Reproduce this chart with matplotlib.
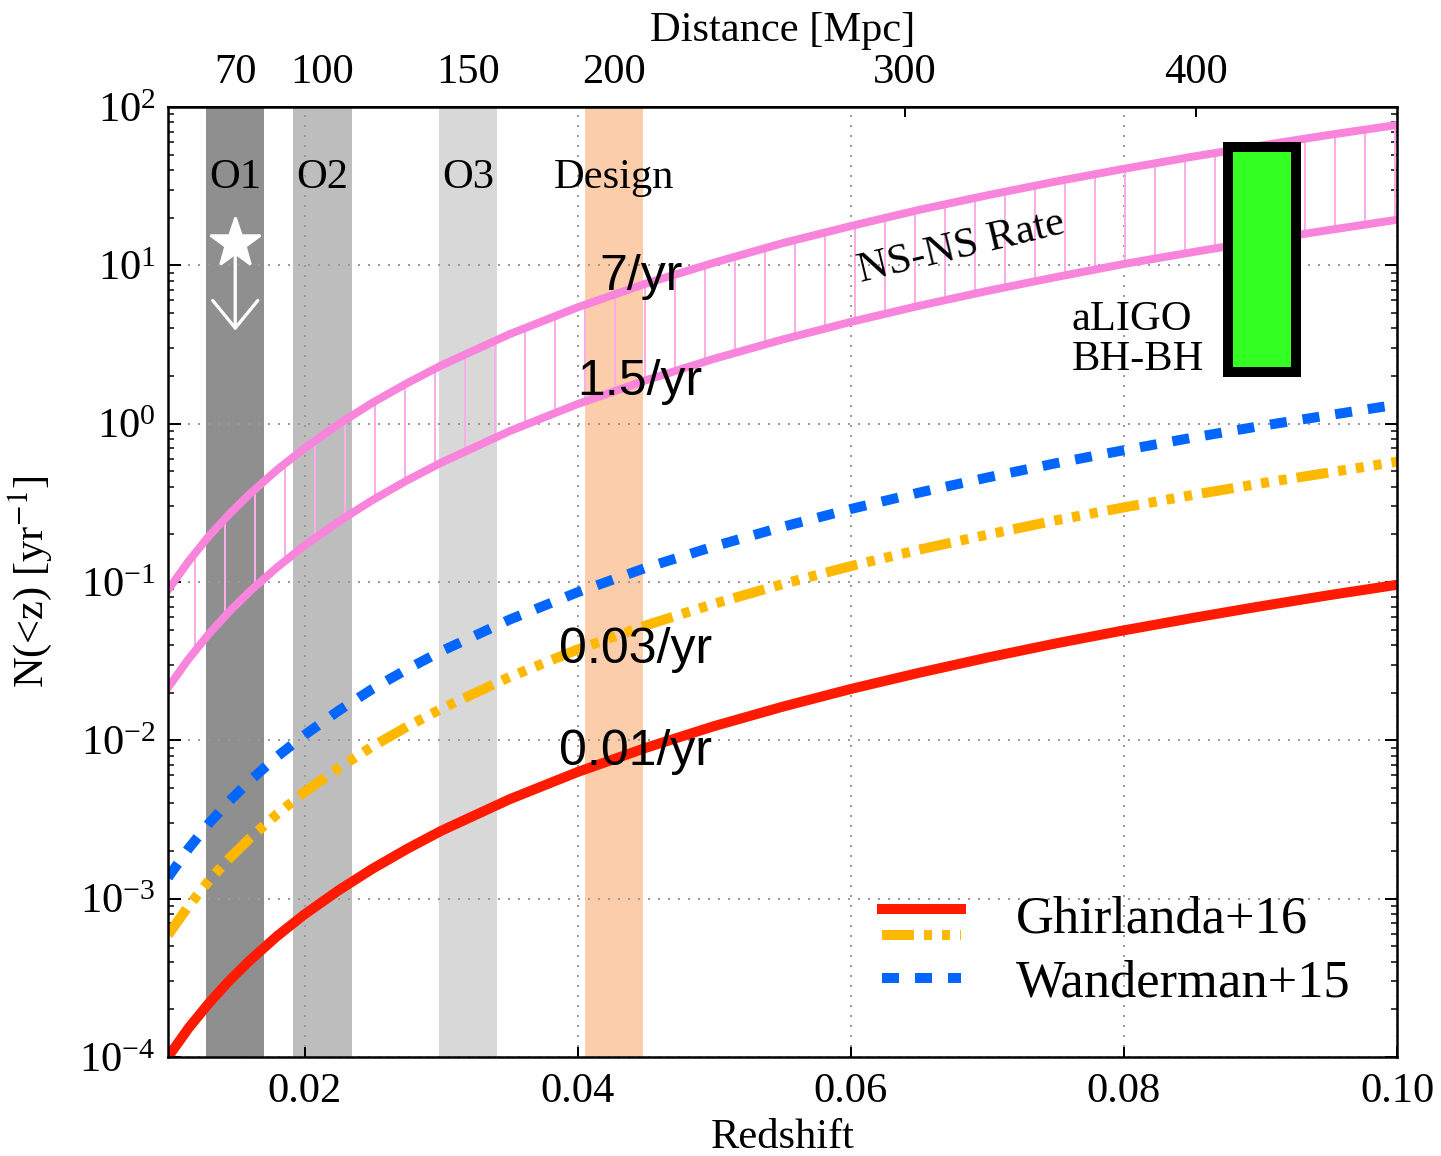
import numpy as np
import matplotlib
matplotlib.use('Agg')
import matplotlib.pyplot as plt
from matplotlib.lines import Line2D
from matplotlib.patches import Rectangle
from matplotlib.legend_handler import HandlerBase
from matplotlib.ticker import NullFormatter, LogLocator

plt.rcParams['font.family'] = 'Liberation Serif'
plt.rcParams['mathtext.fontset'] = 'stix'
plt.rcParams['hatch.linewidth'] = 0.8

# redshift grid the curves were read at
z = [0.01, 0.0115, 0.013, 0.0145, 0.016, 0.018, 0.02, 0.0225, 0.025, 0.0275,
     0.03, 0.035, 0.04, 0.045, 0.05, 0.055, 0.06, 0.065, 0.07, 0.075,
     0.08, 0.085, 0.09, 0.095, 0.10]

# cumulative rates N(<z) [1/yr]
nsns_hi = [0.089, 0.135, 0.195, 0.269, 0.361, 0.512, 0.70, 0.993, 1.36, 1.80,
           2.33, 3.67, 5.43, 7.67, 10.4, 13.8, 17.7, 22.4, 27.7, 33.8,
           40.7, 48.5, 57.0, 66.6, 77.0]
nsns_lo = [0.0215, 0.0326, 0.0471, 0.0652, 0.0875, 0.124, 0.170, 0.241, 0.330, 0.438,
           0.567, 0.896, 1.33, 1.88, 2.57, 3.40, 4.39, 5.55, 6.89, 8.42,
           10.2, 12.1, 14.3, 16.7, 19.4]
wanderman = [1.36e-3, 2.07e-3, 2.99e-3, 4.14e-3, 5.56e-3, 7.91e-3, 1.08e-2, 1.54e-2, 2.12e-2, 2.81e-2,
             3.65e-2, 5.78e-2, 8.62e-2, 0.123, 0.168, 0.223, 0.289, 0.367, 0.457, 0.562,
             0.680, 0.815, 0.966, 1.13, 1.32]
ghirlanda_a = [5.9e-4, 8.97e-4, 1.30e-3, 1.80e-3, 2.41e-3, 3.43e-3, 4.71e-3, 6.70e-3, 9.18e-3, 1.22e-2,
               1.58e-2, 2.51e-2, 3.75e-2, 5.32e-2, 7.29e-2, 9.70e-2, 0.126, 0.160, 0.199, 0.245,
               0.296, 0.354, 0.419, 0.491, 0.575]
ghirlanda_b = [1.0e-4, 1.52e-4, 2.19e-4, 3.04e-4, 4.08e-4, 5.81e-4, 7.96e-4, 1.13e-3, 1.55e-3, 2.06e-3,
               2.68e-3, 4.24e-3, 6.31e-3, 8.97e-3, 1.23e-2, 1.63e-2, 2.11e-2, 2.67e-2, 3.33e-2, 4.09e-2,
               4.95e-2, 5.92e-2, 7.02e-2, 8.25e-2, 9.60e-2]

# detector ranges [Mpc]
band_names = ['O1', 'O2', 'O3', 'Design']
band_lo = [60, 90, 140, 190]
band_hi = [80, 110, 160, 210]
band_colors = ['#8f8f8f', '#bdbdbd', '#d8d8d8', '#fccdaa']

dist_ticks = [70, 100, 150, 200, 300, 400]
MPC_PER_Z = 4690.0

# upper-limit point and aLIGO BH-BH box
star_z, star_n, star_lim = 70 / MPC_PER_Z, 13.9, 3.6
bbh_z = [0.0876, 0.0926]
bbh_n = [2.13, 56]

rate_labels = ['7/yr', '1.5/yr', '0.03/yr', '0.01/yr']
rate_x = [0.0416, 0.0400, 0.0386, 0.0386]
rate_y = [7.0, 1.52, 0.031, 0.0070]

pink = '#f884dc'
red = '#ff1a00'
orange = '#ffb800'
blue = '#0066ff'


class HandlerStack(HandlerBase):
    # two lines stacked in one legend row
    def create_artists(self, legend, orig_handle, xdescent, ydescent,
                       width, height, fontsize, trans):
        out = []
        mid = height / 2 - ydescent
        for h, off in zip(orig_handle, [0.15, -0.55]):
            y = mid + off * height
            ln = Line2D([-xdescent, width - xdescent], [y, y])
            ln.update_from(h)
            ln.set_transform(trans)
            out.append(ln)
        return out


fig = plt.figure(figsize=(1441 / 180, 1156 / 180), dpi=180)
ax = fig.add_axes([168 / 1441, 1 - 1057 / 1156, 1229 / 1441, 950 / 1156])

for name, d0, d1, c in zip(band_names, band_lo, band_hi, band_colors):
    ax.axvspan(d0 / MPC_PER_Z, d1 / MPC_PER_Z, color=c, lw=0, zorder=0.2)
    ax.text((d0 + d1) / 2 / MPC_PER_Z, 36, name, ha='center', va='center', fontsize=17, zorder=3)

ax.fill_between(z, nsns_lo, nsns_hi, facecolor='none', edgecolor='#fbaee6',
                hatch='|', lw=0, zorder=1)
ax.plot(z, nsns_hi, color=pink, lw=3.2, zorder=2)
ax.plot(z, nsns_lo, color=pink, lw=3.2, zorder=2)

l_red, = ax.plot(z, ghirlanda_b, color=red, lw=4, zorder=2)
l_orange, = ax.plot(z, ghirlanda_a, color=orange, lw=4, zorder=2,
                    dashes=[3.2, 1.0, 0.8, 1.0, 0.8, 1.0, 0.8, 1.0])
l_blue, = ax.plot(z, wanderman, color=blue, lw=4, zorder=2, dashes=[1.7, 1.6])

ax.plot([star_z], [star_n], marker='*', ms=21, color='white', mec='white', zorder=4)
ax.annotate('', xy=(star_z, star_lim), xytext=(star_z, star_n),
            arrowprops=dict(arrowstyle='->,head_length=0.55,head_width=0.45',
                            color='white', lw=1.3, mutation_scale=20), zorder=4)

ax.add_patch(Rectangle((bbh_z[0], bbh_n[0]), bbh_z[1] - bbh_z[0], bbh_n[1] - bbh_n[0],
                       facecolor='#33ff22', edgecolor='black', lw=4, zorder=3))
ax.text(0.0762, 3.4, 'aLIGO\nBH-BH', ha='left', va='center', fontsize=17,
        linespacing=1.05, zorder=3)
ax.text(0.0681, 12.9, 'NS-NS Rate', ha='center', va='center', rotation=13.5,
        fontsize=17, zorder=3)

for s, x, y in zip(rate_labels, rate_x, rate_y):
    ax.text(x, y, s, family='Liberation Sans', fontsize=20, ha='left', va='baseline', zorder=5)

ax.set_yscale('log')
ax.set_xlim(0.01, 0.10)
ax.set_ylim(1e-4, 1e2)
ax.set_xticks([0.02, 0.04, 0.06, 0.08, 0.10])
ax.set_xticklabels(['0.02', '0.04', '0.06', '0.08', '0.10'])
ax.yaxis.set_major_locator(LogLocator(base=10, numticks=10))
ax.yaxis.set_minor_locator(LogLocator(base=10, subs=np.arange(2, 10), numticks=10))
ax.yaxis.set_minor_formatter(NullFormatter())
ax.tick_params(axis='x', which='both', direction='in', top=False, length=4, width=0.8,
               labelsize=17, pad=6)
ax.tick_params(axis='y', which='major', direction='in', left=True, right=True, length=5,
               width=0.8, labelsize=17, pad=5)
ax.tick_params(axis='y', which='minor', direction='in', left=True, right=True, length=2.5,
               width=0.6)
for sp in ax.spines.values():
    sp.set_linewidth(1.0)

ax.set_axisbelow(True)
ax.grid(True, which='major', color='#9a9a9a', lw=0.8, linestyle=(0, (1, 4)))

ax.set_xlabel('Redshift', fontsize=17, labelpad=3)
ax.set_ylabel('N(<z) [yr$^{-1}$]', fontsize=17, labelpad=10)

sec = ax.secondary_xaxis('top', functions=(lambda x: x * MPC_PER_Z, lambda d: d / MPC_PER_Z))
sec.set_xticks(dist_ticks)
sec.set_xticklabels([str(d) for d in dist_ticks])
sec.tick_params(direction='in', length=4, width=0.8, labelsize=17, pad=6)
sec.xaxis.set_minor_locator(plt.NullLocator())
sec.set_xlabel('Distance [Mpc]', fontsize=17, labelpad=5)

ax.legend([(l_red, l_orange), l_blue], ['Ghirlanda+16', 'Wanderman+15'],
          handler_map={tuple: HandlerStack()}, loc='lower right',
          bbox_to_anchor=(0.962, 0.052), frameon=False, fontsize=21,
          handlelength=1.5, handletextpad=1.05, borderpad=0, borderaxespad=0,
          labelspacing=0.3)

fig.savefig('out.png', dpi=180)
